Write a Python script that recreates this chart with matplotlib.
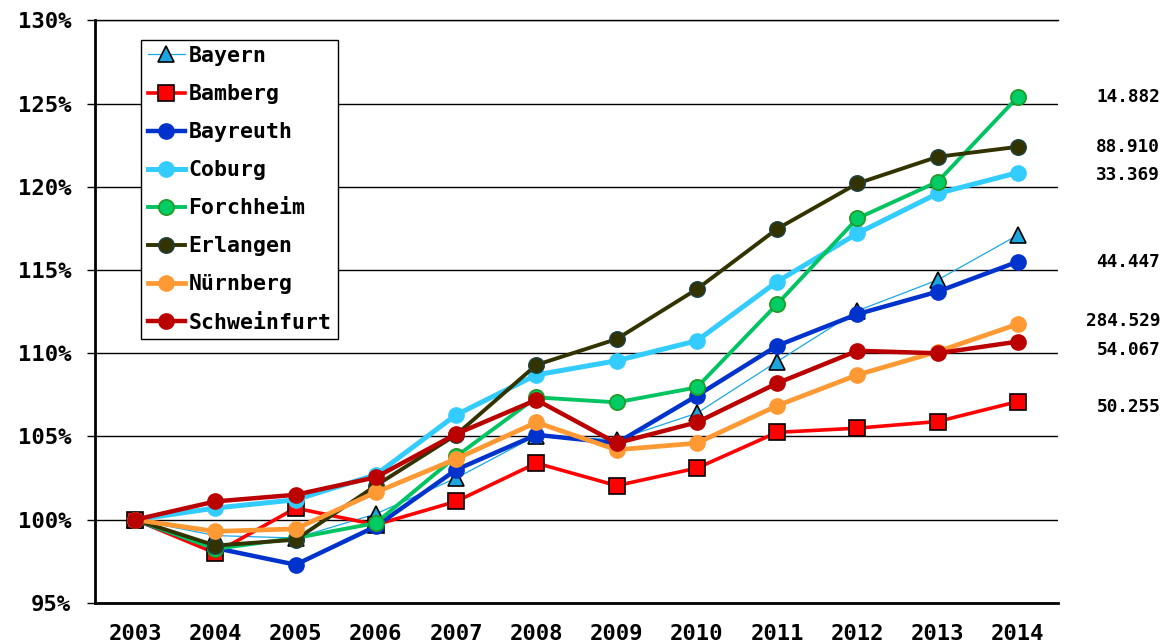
import matplotlib
matplotlib.use("Agg")
import matplotlib.pyplot as plt
import matplotlib.transforms as mtransforms

plt.rcParams['font.family'] = ['DejaVu Sans Mono', 'DejaVu Sans']
plt.rcParams['font.weight'] = 'bold'

years = list(range(2003, 2015))

bayern      = [100, 99.05, 98.9, 100.35, 102.5, 105.05, 104.8, 106.4, 109.5, 112.55, 114.4, 117.1]
bamberg     = [100, 98.0, 100.7, 99.7, 101.1, 103.4, 102.05, 103.1, 105.25, 105.5, 105.9, 107.1]
bayreuth    = [100, 98.3, 97.3, 99.6, 103.0, 105.1, 104.6, 107.45, 110.45, 112.35, 113.7, 115.5]
coburg      = [100, 100.7, 101.2, 102.7, 106.3, 108.7, 109.55, 110.75, 114.3, 117.2, 119.6, 120.85]
forchheim   = [100, 98.25, 98.9, 99.8, 103.8, 107.35, 107.05, 107.95, 112.95, 118.1, 120.3, 125.4]
erlangen    = [100, 98.45, 98.8, 102.05, 105.1, 109.3, 110.85, 113.85, 117.47, 120.2, 121.8, 122.4]
nuernberg   = [100, 99.3, 99.45, 101.65, 103.65, 105.85, 104.2, 104.6, 106.85, 108.7, 110.1, 111.75]
schweinfurt = [100, 101.1, 101.5, 102.55, 105.15, 107.2, 104.6, 105.85, 108.2, 110.15, 110.0, 110.7]

names = ["Bayern", "Bamberg", "Bayreuth", "Coburg", "Forchheim",
         "Erlangen", "Nürnberg", "Schweinfurt"]
series = [bayern, bamberg, bayreuth, coburg, forchheim, erlangen, nuernberg, schweinfurt]

# population figures written beside the 2014 end points
pop_labels = {"Forchheim": "14.882", "Erlangen": "88.910", "Coburg": "33.369",
              "Bayreuth": "44.447", "Nürnberg": "284.529", "Schweinfurt": "54.067",
              "Bamberg": "50.255"}

# style per series: line colour, line width, marker, size, face, edge
styles = {
    "Bayern":      dict(color="#1aa7e6", lw=0.9, marker="^", ms=12, mfc="#1ba6e0", mec="black", mew=1.2),
    "Bamberg":     dict(color="#ff0000", lw=2.6, marker="s", ms=12, mfc="#ff0000", mec="black", mew=1.2),
    "Bayreuth":    dict(color="#0033cc", lw=3.2, marker="o", ms=11, mfc="#0033cc", mec="#0033cc", mew=1),
    "Coburg":      dict(color="#33ccff", lw=3.6, marker="o", ms=11, mfc="#33ccff", mec="#33ccff", mew=1),
    "Forchheim":   dict(color="#00c462", lw=2.8, marker="o", ms=11, mfc="#00cc66", mec="#229922", mew=1.2),
    "Erlangen":    dict(color="#333300", lw=2.8, marker="o", ms=11, mfc="#333300", mec="#1f4040", mew=1.2),
    "Nürnberg":    dict(color="#ff9933", lw=3.4, marker="o", ms=11, mfc="#ff9933", mec="#ff9933", mew=1),
    "Schweinfurt": dict(color="#bb0000", lw=3.2, marker="o", ms=11, mfc="#bb0000", mec="#bb0000", mew=1),
}

# vertical nudge (points) of each population label relative to its end point
label_nudge = {"Forchheim": 0, "Erlangen": 0, "Coburg": -2, "Bayreuth": 0,
               "Nürnberg": 2, "Schweinfurt": -6, "Bamberg": -4}

fig = plt.figure(figsize=(11.71, 6.44), dpi=100)
ax = fig.add_axes([0.0811, 0.0637, 0.8224, 0.9048])

for name, vals in zip(names, series):
    st = styles[name]
    ax.plot(years, vals, color=st["color"], lw=st["lw"], marker=st["marker"],
            markersize=st["ms"], markerfacecolor=st["mfc"], markeredgecolor=st["mec"],
            markeredgewidth=st["mew"], label=name, solid_joinstyle="round")

ax.set_xlim(2002.5, 2014.5)
ax.set_ylim(95, 130)
ax.set_xticks(years)
ax.set_xticklabels([str(y) for y in years])
yt = list(range(95, 131, 5))
ax.set_yticks(yt)
ax.set_yticklabels([f"{v}%" for v in yt])

ax.yaxis.grid(True, color="black", lw=1.0)
ax.set_axisbelow(True)
for s in ["top", "right"]:
    ax.spines[s].set_visible(False)
ax.spines["left"].set_linewidth(2)
ax.spines["bottom"].set_linewidth(2)
ax.tick_params(axis="y", length=6, width=1, pad=11, labelsize=16)
ax.tick_params(axis="x", length=0, pad=15, labelsize=16)
# extend the 130% gridline (top) explicitly
ax.axhline(130, color="black", lw=1.0, clip_on=False)

leg = ax.legend(loc="upper left", bbox_to_anchor=(0.048, 0.967), frameon=True,
                fancybox=False, edgecolor="black", framealpha=1, fontsize=15.5,
                handlelength=1.75, handletextpad=0.15, borderpad=0.3,
                labelspacing=0.84, borderaxespad=0)
leg.get_frame().set_linewidth(1.0)

trans = mtransforms.blended_transform_factory(ax.transAxes, ax.transData)
for name, vals in zip(names, series):
    if name in pop_labels:
        ax.annotate(pop_labels[name], xy=(1.106, vals[-1]), xycoords=trans,
                    xytext=(0, label_nudge[name]), textcoords="offset points",
                    ha="right", va="center", fontsize=12.8, fontweight="bold",
                    annotation_clip=False)

fig.savefig("out.png", dpi=100)
